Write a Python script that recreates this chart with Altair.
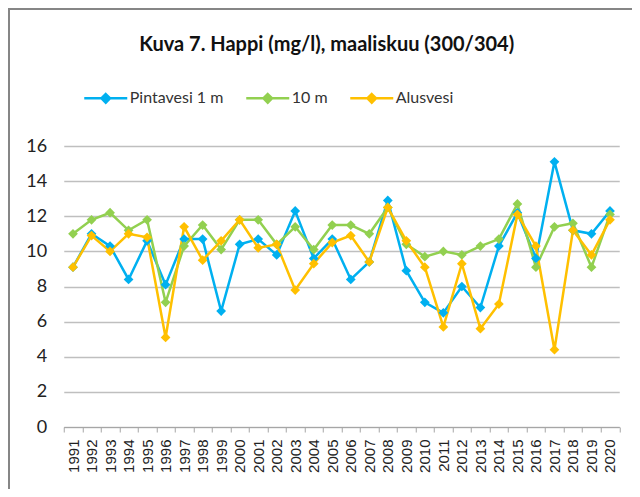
import altair as alt
import pandas as pd

years = [str(y) for y in range(1991, 2021)]
series_names = ["Pintavesi 1 m", "10 m", "Alusvesi"]
series_colors = ["#00B0F0", "#92D050", "#FFC000"]

pinta = [9.1, 11.0, 10.3, 8.4, 10.6, 8.1, 10.7, 10.7, 6.6, 10.4,
         10.7, 9.8, 12.3, 9.6, 10.7, 8.4, 9.4, 12.9, 8.9, 7.1,
         6.5, 8.0, 6.8, 10.3, 12.2, 9.6, 15.1, 11.2, 11.0, 12.3]
m10 = [11.0, 11.8, 12.2, 11.2, 11.8, 7.1, 10.3, 11.5, 10.1, 11.8,
       11.8, 10.4, 11.4, 10.1, 11.5, 11.5, 11.0, 12.5, 10.4, 9.7,
       10.0, 9.8, 10.3, 10.7, 12.7, 9.1, 11.4, 11.6, 9.1, 12.1]
alus = [9.1, 10.9, 10.0, 11.0, 10.8, 5.1, 11.4, 9.5, 10.6, 11.8,
        10.2, 10.4, 7.8, 9.3, 10.5, 10.9, 9.4, 12.5, 10.6, 9.1,
        5.7, 9.3, 5.6, 7.0, 12.1, 10.3, 4.4, 11.2, 9.8, 11.8]
y_ticks = [0, 2, 4, 6, 8, 10, 12, 14, 16]
title_text = "Kuva 7. Happi (mg/l), maaliskuu (300/304)"

rows = []
for name, vals in zip(series_names, [pinta, m10, alus]):
    for yr, v in zip(years, vals):
        rows.append({"year": yr, "series": name, "value": v})
df = pd.DataFrame(rows)

x_enc = alt.X(
    "year:O",
    sort=years,
    bandPosition=0.5,
    scale=alt.Scale(type="band", paddingInner=0, paddingOuter=0),
    axis=alt.Axis(
        title=None, labelAngle=270, tickBand="extent", grid=False,
        domainColor="#a6a6a6", tickColor="#a6a6a6", tickSize=5,
        labelFont="Liberation Sans", labelFontSize=15, labelColor="#222222",
        labelPadding=7,
    ),
)
y_enc = alt.Y(
    "value:Q",
    scale=alt.Scale(domain=[0, 16], nice=False),
    axis=alt.Axis(
        title=None, values=y_ticks, grid=True, gridColor="#bfbfbf", gridWidth=1.3,
        domain=False, ticks=False, labelPadding=17,
        labelFont="Lato", labelFontSize=18, labelColor="#222222",
    ),
)
legend_path = "M-1,0L1,0M0,-0.2L0.2,0L0,0.2L-0.2,0Z M0,-0.1L0.1,0L0,0.1L-0.1,0Z"
color_enc = alt.Color(
    "series:N",
    sort=series_names,
    scale=alt.Scale(domain=series_names, range=series_colors),
    legend=alt.Legend(
        title=None, orient="none", legendX=19, legendY=-71, direction="horizontal",
        symbolType=legend_path, symbolSize=1849, symbolStrokeWidth=2.5,
        labelFont="Lato", labelFontSize=16, labelColor="#333333",
        labelOffset=1, columnPadding=17, padding=0,
    ),
)

base = alt.Chart(df)
lines = base.mark_line(strokeWidth=2.5).encode(x=x_enc, y=y_enc, color=color_enc)
points = base.mark_point(shape="diamond", filled=True, size=95, opacity=1).encode(
    x=x_enc, y=y_enc, color=color_enc
)

title = alt.Chart(pd.DataFrame({"t": [title_text]})).mark_text(
    font="Lato", fontSize=20, fontWeight="bold", color="#111111",
    align="center", baseline="alphabetic",
).encode(text="t:N", x=alt.value(263), y=alt.value(-95))

frame_df = pd.DataFrame({"a": [0]})
top_border = alt.Chart(frame_df).mark_rule(color="#868686", strokeWidth=2).encode(
    x=alt.value(-56), x2=alt.value(580), y=alt.value(-137)
)
left_border = alt.Chart(frame_df).mark_rule(color="#868686", strokeWidth=2).encode(
    x=alt.value(-54.75), y=alt.value(-138), y2=alt.value(345)
)

chart = alt.layer(lines, points, title, top_border, left_border).properties(
    width=555.5, height=281,
    padding={"left": 55.75, "top": 138, "right": 12.75, "bottom": 62},
    autosize="none",
).configure_view(stroke=None)

chart.save("out.html", embed_options={"renderer": "svg", "actions": False})
